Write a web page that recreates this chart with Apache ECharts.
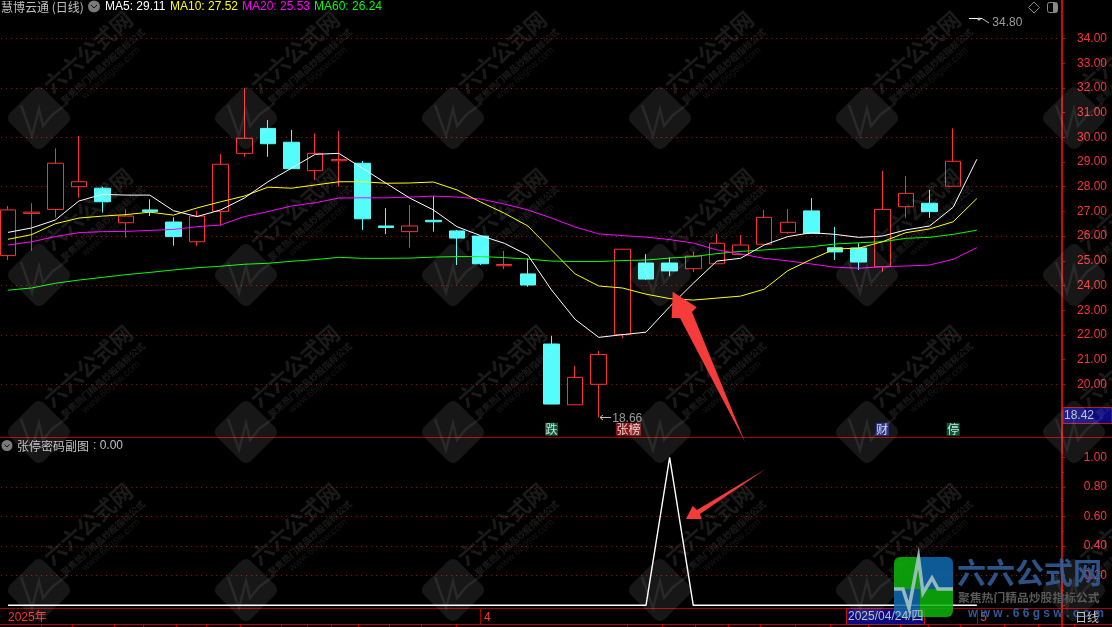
<!DOCTYPE html>
<html><head><meta charset="utf-8">
<style>html,body{margin:0;padding:0;background:#000;overflow:hidden}#c{width:1112px;height:627px}</style>
<script src="https://cdn.jsdelivr.net/npm/echarts@6/dist/echarts.min.js"></script>
</head><body><div id="c"></div>
<script>
// trading days shown on the chart
const categories = ['03/04','03/05','03/06','03/07','03/10','03/11','03/12','03/13','03/14','03/17','03/18','03/19','03/20','03/21','03/24','03/25','03/26','03/27','03/28','03/31',
 '04/01','04/02','04/03','04/07','04/08','04/09','04/10','04/11','04/14','04/15','04/16','04/17','04/18','04/21','04/22','04/23','04/24','04/25','04/28','04/29','04/30','05/06'];
const spareSlots = ['', '', ''];
// [open, close, low, high]
const candles = [
 [25.21,27.06,25.03,27.22],[26.92,26.97,25.41,27.33],[27.08,28.95,26.76,29.55],[28.00,28.20,27.55,30.05],
 [27.94,27.39,26.95,28.00],[26.54,26.81,25.94,27.08],[27.06,27.00,26.81,27.49],[26.57,25.98,25.61,26.76],
 [25.77,26.81,25.61,27.02],[27.00,28.91,26.42,29.32],[29.35,29.96,29.21,31.98],[30.36,29.74,29.21,30.70],
 [29.80,28.73,28.73,30.30],[28.65,29.35,28.27,30.16],[29.05,29.10,28.00,30.25],[28.95,26.70,26.25,29.04],
 [26.41,26.35,26.08,27.13],[26.18,26.41,25.53,27.26],[26.64,26.58,26.18,27.62],[26.21,25.92,24.83,26.25],
 [26.00,24.88,24.83,26.00],[24.80,24.85,24.67,25.40],[24.47,24.02,23.95,25.10],[21.63,19.20,19.20,21.96],
 [19.17,20.28,19.17,20.74],[20.00,21.21,18.66,21.35],[22.01,25.47,21.87,25.47],[24.91,24.26,24.22,25.27],
 [24.91,24.59,24.38,25.14],[24.68,25.19,24.55,25.37],[24.88,25.71,24.88,26.09],[25.26,25.64,25.26,26.04],
 [25.67,26.76,25.67,27.06],[26.15,26.56,26.10,27.10],[27.02,26.11,26.11,27.54],[25.53,25.36,25.03,26.37],
 [25.52,24.95,24.63,25.71],[24.76,27.08,24.56,28.64],[27.19,27.73,26.74,28.43],[27.33,26.99,26.74,27.87],
 [28.02,29.03,28.02,30.36],['-','-','-','-']
];
const ma5 = [26.15,26.33,26.65,27.42,27.69,27.66,27.66,27.03,26.79,27.06,27.54,28.20,28.75,29.31,29.35,28.75,28.14,27.54,27.06,26.38,26.02,25.71,25.23,23.82,22.63,21.90,22.01,22.11,23.14,24.09,24.99,25.10,25.64,25.98,26.14,26.07,25.95,26.00,26.25,26.41,27.17,29.11];
const ma10 = [25.87,26.06,26.50,26.73,26.81,26.87,26.97,26.85,27.14,27.39,27.62,27.98,27.94,28.07,28.20,28.20,28.14,28.15,28.19,27.87,27.38,26.93,26.41,25.44,24.47,23.98,23.90,23.65,23.47,23.41,23.49,23.57,23.85,24.60,25.06,25.48,25.51,25.77,26.14,26.29,26.58,27.52];
const ma20 = [25.64,25.77,25.98,26.14,26.18,26.19,26.23,26.27,26.38,26.45,26.79,26.99,27.22,27.35,27.54,27.55,27.55,27.58,27.62,27.58,27.50,27.30,27.06,26.73,26.37,26.09,26.02,25.96,25.86,25.72,25.44,25.28,25.10,25.00,24.87,24.74,24.70,24.76,24.79,24.83,25.06,25.53];
const ma60 = [23.81,23.90,24.09,24.22,24.33,24.44,24.53,24.63,24.72,24.78,24.86,24.90,24.98,25.05,25.14,25.10,25.10,25.11,25.15,25.17,25.17,25.13,25.07,24.99,24.97,24.97,25.01,25.03,25.11,25.17,25.29,25.38,25.44,25.51,25.57,25.68,25.73,25.77,25.91,25.95,26.07,26.24];
const signal = [0,0,0,0,0,0,0,0,0,0,0,0,0,0,0,0,0,0,0,0,0,0,0,0,0,0,0,0,1,0,0,0,0,0,0,0,0,0,0,0,0,0];
const priceTicks = [34,33,32,31,30,29,28,27,26,25,24,23,22,21,20];
const xTickText = {0:'2025年',20:' 4',41:' 5'};
const tags = [
 {i:23,v:18.18,t:'跌',bg:'#0b7048',dx:0},
 {i:26,v:18.18,t:'张榜',bg:'#a51a1a',dx:6},
 {i:37,v:18.18,t:'财',bg:'#1a2a9c',dx:0},
 {i:40,v:18.18,t:'停',bg:'#0b7048',dx:0}
];
const lowMark = [25,18.66], highMark = [41,34.80];

const FONT = '"Liberation Sans",Arial,sans-serif';
const CJK = '"Noto Sans CJK SC",sans-serif';
const AXIS = '#c80a0a', DARK = '#a80000', DOT = '#b01010', TXT = '#c0c0c0';
const xData = categories.concat(spareSlots);
const BAND = 23.63, LEFT = 8 - BAND/2, W = BAND*xData.length;
const grids = [
 {left:LEFT, width:W, top:13.8, height:419.9, outerBoundsMode:'none', containLabel:false},
 {left:LEFT, width:W, top:457.3, height:148, outerBoundsMode:'none', containLabel:false}
];
const off = 1062 - (LEFT+W);

function tx(x,y,t,fill,font,extra){return {type:'text',x,y,z:(extra&&extra.z)||20,silent:true,style:Object.assign({text:t,fill,font,textVerticalAlign:'middle'},extra||{})};}
function ln(x1,y1,x2,y2,c,w,z){return {type:'line',z:z||15,silent:true,shape:{x1,y1,x2,y2},style:{stroke:c,lineWidth:w||1}};}
const g = [];
// frame
g.push(ln(0,437.5,1112,437.5,DARK));
g.push(ln(0,608.5,1112,608.5,DARK));
g.push(ln(0,624.5,1112,624.5,'#c00000'));
g.push(ln(1062,0,1062,627,AXIS,2));
g.push(ln(480.5,608,480.5,624,DARK));
g.push(ln(977.5,608,977.5,624,DARK));
[41,72,114,143,176,206,240,281,307,331,358,389,421,456].forEach(x=>g.push(ln(x+.5,624,x+.5,627,'#c00000')));
[627,662,695,728,760,795,830,868,900,928,960,1004,1038,1074].forEach(x=>g.push(ln(x+.5,624,x+.5,627,'#c00000')));
// title row
g.push(tx(1,7,'慧博云通 (日线)',TXT,'12px '+CJK));
g.push({type:'circle',z:20,silent:true,shape:{cx:94,cy:6.5,r:6},style:{fill:'#7a7a7a'}});
g.push({type:'polyline',z:21,silent:true,shape:{points:[[91,5],[94,8],[97,5]]},style:{stroke:'#111',fill:null,lineWidth:1}});
[[105,'MA5: 29.11','#ffffff'],[170,'MA10: 27.52','#ffff00'],[242,'MA20: 25.53','#ff00ff'],[314,'MA60: 26.24','#00ff00']]
 .forEach(a=>g.push(tx(a[0],7,a[1],a[2],'12px '+FONT)));
// top-right icons
g.push({type:'polygon',z:20,silent:true,shape:{points:[[1034,2],[1039.5,7.5],[1034,13],[1028.5,7.5]]},style:{stroke:'#8a8a8a',fill:null,lineWidth:1}});
g.push({type:'rect',z:20,silent:true,shape:{x:1047.5,y:2.5,width:10,height:10,r:2},style:{stroke:'#8a8a8a',fill:'#000',lineWidth:1}});
g.push({type:'rect',z:21,silent:true,shape:{x:1053,y:3,width:4,height:9},style:{fill:'#8a8a8a'}});
// sub-panel title
g.push({type:'circle',z:20,silent:true,shape:{cx:7,cy:445.5,r:5.5},style:{fill:'#7a7a7a'}});
g.push({type:'polyline',z:21,silent:true,shape:{points:[[4.5,444.5],[7,447],[9.5,444.5]]},style:{stroke:'#111',fill:null,lineWidth:1}});
g.push(tx(17,446,'张停密码副图',TXT,'12px '+CJK));
g.push(tx(93,446,': 0.00',TXT,'12px '+FONT));
// last-price box + date box + period
g.push({type:'rect',z:16,silent:true,shape:{x:1063,y:407.5,width:49,height:16},style:{fill:'#0a0a80',stroke:'#c81010',lineWidth:1}});
g.push(tx(1064,416,'18.42',TXT,'12px '+FONT));
g.push({type:'rect',z:16,silent:true,shape:{x:846.5,y:608.5,width:78,height:16},style:{fill:'#0a0a80',stroke:'#c81010',lineWidth:1}});
g.push(tx(848,617,'2025/04/24/四',TXT,'12px '+FONT+','+CJK,{z:52}));
g.push(tx(1075,617,'日线',TXT,'12px '+CJK,{z:52}));
// high / low annotation bits
g.push(ln(969,18.5,982,18.5,'#ffffff',1,20));
g.push({type:'polyline',z:20,silent:true,shape:{points:[[982,18.5],[989,23]]},style:{stroke:TXT,fill:null,lineWidth:1}});
g.push({type:'circle',z:20,silent:true,shape:{cx:979,cy:19,r:1.6},style:{fill:TXT}});
g.push(ln(600,417.5,611,417.5,TXT,1,20));
g.push({type:'polyline',z:20,silent:true,shape:{points:[[603,415],[600,417.5],[603,420]]},style:{stroke:TXT,fill:null,lineWidth:1}});
// watermarks
[118,275,432,590].forEach(cy=>[39,246,453,660,867,1074].forEach(cx=>{
  const a='rgba(255,255,255,0.09)', r=Math.PI/4, rt=0.72;
  g.push({type:'rect',z:30,silent:true,x:cx,y:cy,rotation:r,shape:{x:-24,y:-24,width:48,height:48,r:7},style:{fill:a}});
  g.push({type:'polyline',z:31,silent:true,shape:{points:[[cx-18,cy-13],[cx-7,cy+18],[cx,cy-9],[cx+4,cy+8],[cx+13,cy-3],[cx+29,cy-15]]},style:{stroke:'rgba(255,255,255,0.08)',fill:null,lineWidth:2.5}});
  g.push({type:'text',z:30,silent:true,x:cx+49,y:cy-66,rotation:rt,style:{text:'六六公式网',fill:'rgba(255,255,255,0.10)',font:'bold 22px '+CJK,textAlign:'center',textVerticalAlign:'middle'}});
  g.push({type:'text',z:30,silent:true,x:cx+64,y:cy-52,rotation:rt,style:{text:'聚焦热门精品炒股指标公式',fill:'rgba(255,255,255,0.10)',font:'bold 9px '+CJK,textAlign:'center',textVerticalAlign:'middle'}});
  g.push({type:'text',z:30,silent:true,x:cx+72,y:cy-45,rotation:rt,style:{text:'www.66gsw.com',fill:'rgba(255,255,255,0.08)',font:'10px '+FONT,textAlign:'center',textVerticalAlign:'middle'}});
}));
// hand-drawn arrows
const RED='#f63c3a';
g.push({type:'polygon',z:40,silent:true,shape:{points:[[672.7,291.7],[696.7,307.3],[692,312],[745,442],[680,318],[671.7,318]]},style:{fill:RED}});
g.push({type:'polygon',z:40,silent:true,shape:{points:[[686,519],[692.7,506],[697,510],[765.7,469],[700,514],[701.7,519]]},style:{fill:RED}});
// site logo
const GRN='#0cb50c', BLU='#0f6ab0';
const L=[
 {x:894,y:557,width:26,height:32,r:[6,0,0,0],fill:GRN},
 {x:920,y:557,width:33,height:32,r:[0,6,0,0],fill:BLU},
 {x:894,y:589,width:26,height:28,r:[0,0,0,6],fill:BLU},
 {x:920,y:589,width:33,height:28,r:[0,0,6,0],fill:GRN}];
L.forEach(b=>g.push({type:'rect',z:50,silent:true,shape:{x:b.x,y:b.y,width:b.width,height:b.height,r:b.r},style:{fill:b.fill,opacity:.85}}));
g.push({type:'polyline',z:51,silent:true,shape:{points:[[894,589],[903,589],[909,608],[918.5,558],[923,593],[932,578],[938,589],[953,589]]},style:{stroke:'#a3c4c4',fill:null,lineWidth:3.5,opacity:.9}});
g.push(tx(957,573,'六六公式网','#3460a0','bold 29px '+CJK,{opacity:.85,z:51}));
g.push(tx(958,598,'聚焦热门精品炒股指标公式','#5a5a5a','bold 11.8px '+CJK,{z:51}));
g.push(tx(968,614,'w w w . 6 6 g s w . c o m','#2c5a9a','bold 12px '+FONT,{z:51}));

const chart = echarts.init(document.getElementById('c'),null,{renderer:'canvas'});
const lineS=(name,data,color)=>({name,type:'line',data,xAxisIndex:0,yAxisIndex:0,symbol:'none',smooth:false,z:5,lineStyle:{color,width:1}});
const hidden={symbol:'circle',symbolSize:1,itemStyle:{color:'rgba(0,0,0,0)'}};
chart.setOption({
 animation:false,
 backgroundColor:'#000',
 grid:grids,
 xAxis:[
  {type:'category',gridIndex:0,data:xData,boundaryGap:true,show:false},
  {type:'category',gridIndex:1,data:xData,boundaryGap:true,position:'bottom',axisLine:{show:false},axisTick:{show:false},
   axisLabel:{show:true,margin:6,align:'left',color:'#ff3232',fontFamily:FONT+','+CJK,fontSize:12,
     interval:(i)=>xTickText[i]!==undefined, formatter:(v,i)=>xTickText[i]||''}}
 ],
 yAxis:[
  {type:'value',gridIndex:0,position:'right',offset:off,min:18,max:35,interval:1,scale:false,
   splitLine:{show:false},axisLine:{show:false},
   axisTick:{show:true,inside:false,length:3,lineStyle:{color:AXIS},customValues:priceTicks.concat([19])},
   axisLabel:{show:true,align:'right',margin:45,color:'#ff3232',fontFamily:FONT,fontSize:12,customValues:priceTicks,formatter:v=>v.toFixed(2)}},
  {type:'value',gridIndex:1,position:'right',offset:off,min:0,max:1,interval:0.2,
   splitLine:{show:true,showMinLine:false,showMaxLine:false,lineStyle:{color:DOT,type:[1,4],width:1}},
   axisLine:{show:false},axisTick:{show:true,length:3,lineStyle:{color:AXIS}},
   minorTick:{show:true,splitNumber:2,length:2,lineStyle:{color:AXIS}},
   axisLabel:{show:true,align:'right',margin:45,color:'#ff3232',fontFamily:FONT,fontSize:12,formatter:v=>v===0?'':v.toFixed(2)}},
  {type:'value',gridIndex:0,position:'right',min:18,max:35,interval:2,
   splitLine:{show:true,showMinLine:false,showMaxLine:false,lineStyle:{color:DOT,type:[1,4],width:1}},
   axisLine:{show:false},axisTick:{show:false},axisLabel:{show:false}}
 ],
 series:[
  {name:'K',type:'candlestick',xAxisIndex:0,yAxisIndex:0,data:candles,barWidth:16,z:3,
   itemStyle:{color:'#000',color0:'#54fcfc',borderColor:'#ff3232',borderColor0:'#54fcfc',borderWidth:1}},
  lineS('MA60',ma60,'#00ff00'),lineS('MA20',ma20,'#ff00ff'),lineS('MA10',ma10,'#ffff00'),lineS('MA5',ma5,'#ffffff'),
  {type:'line',name:'signal',xAxisIndex:1,yAxisIndex:1,data:signal,symbol:'none',z:5,lineStyle:{color:'#ffffff',width:1.4}},
  Object.assign({type:'scatter',name:'tags',xAxisIndex:0,yAxisIndex:0,z:8,silent:true,
   data:tags.map(d=>({value:[d.i,d.v],label:{show:true,position:'inside',formatter:d.t,offset:[d.dx,0],color:'#fff',backgroundColor:d.bg,fontFamily:CJK,fontSize:12,lineHeight:13,padding:[0,0.5]}}))},hidden),
  Object.assign({type:'scatter',name:'marks',xAxisIndex:0,yAxisIndex:0,z:8,silent:true,
   data:[
    {value:lowMark,label:{show:true,position:'right',distance:0,offset:[13,1],formatter:lowMark[1].toFixed(2),color:TXT,fontFamily:FONT,fontSize:12}},
    {value:highMark,label:{show:true,position:'right',distance:0,offset:[15,4],formatter:highMark[1].toFixed(2),color:TXT,fontFamily:FONT,fontSize:12}}
   ]},hidden)
 ],
 graphic:{elements:g}
});
</script></body></html>
